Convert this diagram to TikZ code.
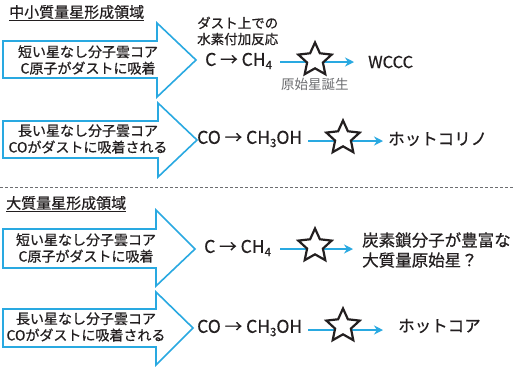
\documentclass[tikz,border=0pt]{standalone}
\usepackage{fontspec}
\setmainfont{Noto Sans CJK JP}
\newfontfamily\medfont{Noto Sans CJK JP}[UprightFeatures={FakeBold=0.6}]
\usetikzlibrary{shapes.geometric,arrows.meta}
\definecolor{cy}{HTML}{29A9E1}
\definecolor{tx}{HTML}{231F20}
\definecolor{gr}{HTML}{6D6E71}
\newcommand\sbsc[1]{\raisebox{-0.35ex}{\fontsize{11.5}{11.5}\selectfont #1}}
\begin{document}
\begin{tikzpicture}[x=1pt,y=-1pt,
  bigarrow/.style={draw=cy, line width=1.6pt, fill=white, line join=miter},
  boxtext/.style={text=tx, font=\medfont\fontsize{14}{16.5}\selectfont, align=center, inner sep=0},
  ttl/.style={text=tx, font=\medfont\fontsize{15}{17}\selectfont, anchor=west, inner sep=0},
  chem/.style={text=tx, font=\medfont\fontsize{17.5}{19}\selectfont, anchor=west, inner sep=0},
  res/.style={text=tx, font=\medfont\fontsize{16.5}{20}\selectfont, anchor=west, inner sep=0, align=left},
  small/.style={text=tx, font=\medfont\fontsize{13.5}{16}\selectfont, anchor=west, inner sep=0, align=left},
  note/.style={text=gr, font=\fontsize{13.5}{16}\selectfont, anchor=west, inner sep=0},
  carrow/.style={draw=cy, line width=2pt, -{Stealth[length=9pt,width=9pt]}},
  starnode/.style={star, star points=5, star point ratio=2.1, minimum size=35pt, draw=tx, line width=2.2pt, fill=white, inner sep=0}]
\useasboundingbox (0,0) rectangle (513,368);
\fill[white] (0,0) rectangle (513,368);

% titles
\node[ttl] (t1) at (9,13) {\underline{中小質量星形成領域}};
\node[ttl] (t2) at (6,204) {\underline{大質量星形成領域}};

% separator
\coordinate (sepL) at (0,187);
\coordinate (sepR) at (513,187);
\draw[gr, line width=0.8pt, dash pattern=on 3pt off 2pt] (sepL) -- (sepR);

% big arrows
\draw[bigarrow] (3,41) -- (157,41) -- (157,23) -- (196,60) -- (157,97) -- (157,78) -- (3,78) -- cycle;
\draw[bigarrow] (3,121) -- (158,121) -- (158,103) -- (197,140) -- (158,177) -- (158,158) -- (3,158) -- cycle;
\draw[bigarrow] (3,229) -- (156,229) -- (156,210) -- (195,249) -- (156,286) -- (156,268) -- (3,268) -- cycle;
\draw[bigarrow] (3,309) -- (156,309) -- (156,292) -- (193,328) -- (156,365) -- (156,347) -- (3,347) -- cycle;

\node[boxtext] (b1) at (88,60) {短い星なし分子雲コア\\C原子がダストに吸着};
\node[boxtext] (b2) at (88,139) {長い星なし分子雲コア\\COがダストに吸着される};
\node[boxtext] (b3) at (86,248) {短い星なし分子雲コア\\C原子がダストに吸着};
\node[boxtext] (b4) at (86,327) {長い星なし分子雲コア\\COがダストに吸着される};

% row 1
\node[small] (h1) at (197,31) {ダスト上での\\水素付加反応};
\node[chem] (c1) at (205,61) {C → CH\sbsc{4}};
\coordinate (a1s) at (280,62);
\coordinate (a1e) at (354,62);
\draw[carrow] (a1s) -- (a1e);
\node[starnode] (s1) at (315,60) {};
\node[note] (p1) at (281,84) {原始星誕生};
\node[res] (r1) at (368,62) {WCCC};

% row 2
\node[chem] (c2) at (197,139) {CO → CH\sbsc{3}OH};
\coordinate (a2s) at (308,141);
\coordinate (a2e) at (383,141);
\draw[carrow] (a2s) -- (a2e);
\node[starnode] (s2) at (343,138) {};
\node[res] (r2) at (388,139) {ホットコリノ};

% row 3
\node[chem] (c3) at (204,248) {C → CH\sbsc{4}};
\coordinate (a3s) at (280,249);
\coordinate (a3e) at (353,249);
\draw[carrow] (a3s) -- (a3e);
\node[starnode] (s3) at (315,246) {};
\node[res] (r3) at (362,250) {炭素鎖分子が豊富な\\大質量原始星？};

% row 4
\node[chem] (c4) at (197,328) {CO → CH\sbsc{3}OH};
\coordinate (a4s) at (308,330);
\coordinate (a4e) at (383,330);
\draw[carrow] (a4s) -- (a4e);
\node[starnode] (s4) at (343,326) {};
\node[res] (r4) at (398,326) {ホットコア};
\end{tikzpicture}
\end{document}
